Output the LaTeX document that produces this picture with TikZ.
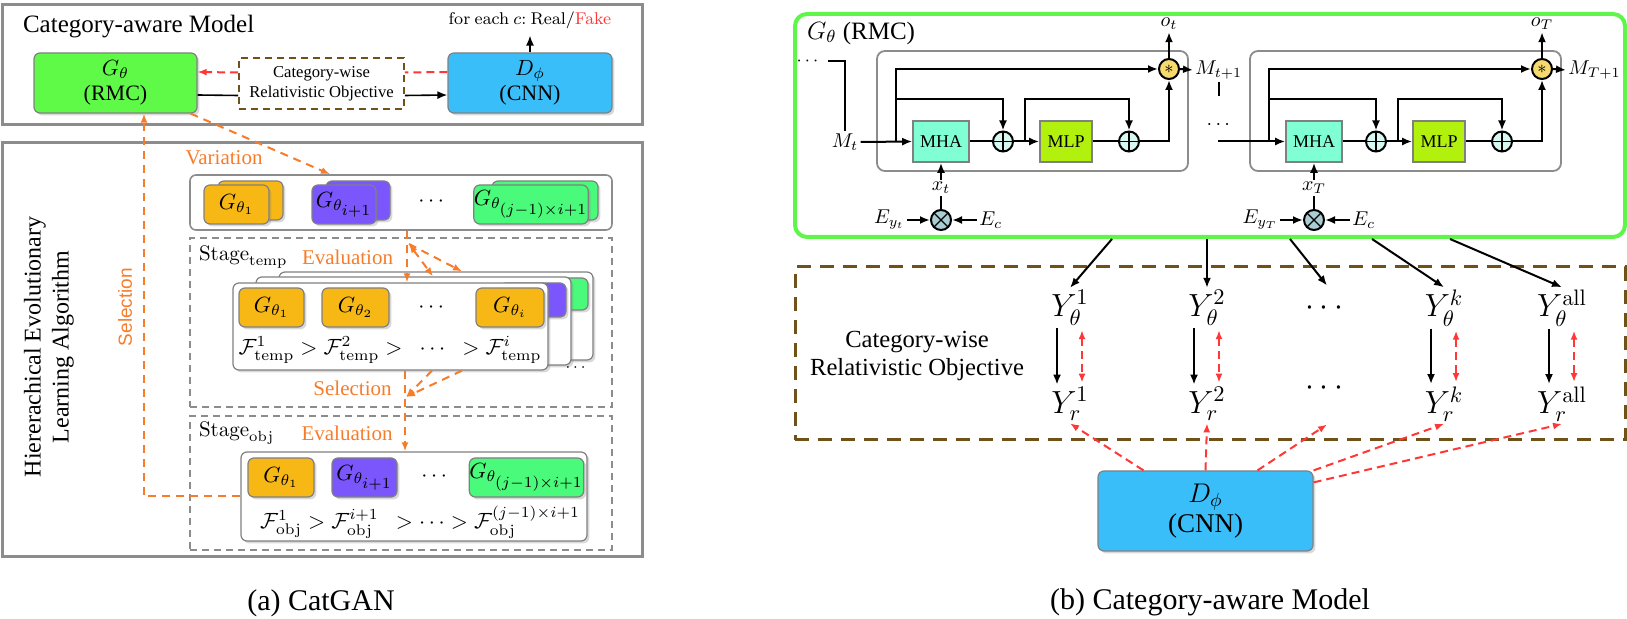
\RequirePackage{fix-cm}
\documentclass[tikz,border=0pt]{standalone}
\usepackage[no-math]{fontspec}
\setmainfont{Liberation Serif}
\setsansfont{Liberation Sans}
\usepackage{amsmath}
\usepackage{xcolor}
\usetikzlibrary{arrows.meta,shadows}

\definecolor{boxgray}{RGB}{140,140,140}
\definecolor{orng}{RGB}{247,124,42}
\definecolor{redd}{RGB}{255,55,55}
\definecolor{gencol}{RGB}{95,250,72}
\definecolor{discol}{RGB}{58,190,250}
\definecolor{cardorng}{RGB}{247,184,22}
\definecolor{cardpurp}{RGB}{122,86,252}
\definecolor{cardgrn}{RGB}{74,250,122}
\definecolor{mhacol}{RGB}{128,255,212}
\definecolor{mlpcol}{RGB}{178,240,14}
\definecolor{pluscol}{RGB}{214,248,240}
\definecolor{mulcol}{RGB}{247,218,110}
\definecolor{crosscol}{RGB}{170,205,212}
\definecolor{rmcgreen}{RGB}{95,245,75}
\definecolor{objbrown}{RGB}{110,82,25}

\newcommand\fsz[2]{\fontsize{#1}{#2}\selectfont}

\tikzset{
  panel/.style={draw=boxgray, line width=1.5pt},
  gbox/.style={draw=gray, rounded corners=3pt, line width=0.6pt, inner sep=0pt, align=center,
    drop shadow={shadow xshift=1.2pt, shadow yshift=-1.2pt, opacity=0.3}},
  card/.style={gbox, fill=white},
  stagebox/.style={draw=boxgray, line width=0.8pt, dash pattern=on 3.5pt off 2.5pt},
  wire/.style={line width=1pt},
  arr/.style={line width=1pt, -{Latex[length=5pt,width=4pt]}},
  oarr/.style={draw=orng, line width=1pt, dash pattern=on 4pt off 3pt, -{Latex[length=4.5pt,width=3.5pt]}},
  rarr/.style={draw=redd, line width=1pt, dash pattern=on 4pt off 2.5pt, -{Latex[length=4.5pt,width=3.5pt]}},
  orlabel/.style={text=orng, font=\fsz{10.5}{12}},
  opnode/.style={circle, draw, line width=1pt, minimum size=10pt, inner sep=0pt},
  plusop/.style={opnode, fill=pluscol, path picture={\draw[line width=0.6pt]
    (path picture bounding box.north) -- (path picture bounding box.south)
    (path picture bounding box.west) -- (path picture bounding box.east);}},
  crossop/.style={opnode, fill=crosscol, path picture={\draw[line width=0.6pt]
    (path picture bounding box.north west) -- (path picture bounding box.south east)
    (path picture bounding box.north east) -- (path picture bounding box.south west);}},
}

\begin{document}
\begin{tikzpicture}[x=0.5pt,y=-0.5pt]
\useasboundingbox (0,0) rectangle (1627,619);

% (a) CatGAN, top part
\draw[panel] (2,5) rectangle (642,125);
\node[anchor=west, font=\fsz{12.5}{15}] (titlea) at (16,27) {Category-aware Model};
\node[gbox, fill=gencol, minimum width=81.5pt, minimum height=30pt, font=\fsz{11}{12.5}] (gen) at (115.5,83) {$G_\theta$\\(RMC)};
\node[draw=objbrown, line width=0.8pt, dash pattern=on 3.5pt off 2.5pt, minimum width=82.5pt, minimum height=25.5pt,
  align=center, inner sep=0pt, font=\fsz{8.3}{10}] (cat) at (321.5,83.5) {Category-wise\\Relativistic Objective};
\node[gbox, fill=discol, minimum width=82pt, minimum height=30pt, font=\fsz{11}{12.5}] (dis) at (530,83) {$D_\phi$\\(CNN)};
\node[font=\fsz{8.5}{10}] (real) at (530,20) {$\mathrm{for\ each}\ c\mathrm{:}\ \mathrm{Real}/{\color{redd}\mathrm{Fake}}$};
\draw[arr, line width=0.8pt] (dis.north) -- (real.south);
\draw[wire, line width=0.8pt] ([yshift=-6pt]gen.east) -- ([yshift=-6pt]cat.west);
\draw[arr, line width=0.8pt] ([yshift=-6pt]cat.east) -- ([yshift=-6pt]dis.west);
\draw[rarr, -] ([yshift=5.5pt]dis.west) -- ([yshift=5.5pt]cat.east);
\draw[rarr] ([yshift=5.5pt]cat.west) -- ([yshift=5.5pt]gen.east);

% evolutionary part
\draw[panel] (2,143) rectangle (642,557);
\node[rotate=90, align=center, font=\fsz{12}{14}] (hier) at (49,347) {Hiererachical Evolutionary\\Learning Algorithm};
\node[rotate=90, text=orng, font=\sffamily\fsz{9.5}{11}] (selv) at (125,307) {Selection};

\node[draw=boxgray, line width=0.8pt, rounded corners=3pt, minimum width=211pt, minimum height=27.5pt] (pop) at (401,202.5) {};
\foreach \n/\x/\w/\c/\lab in {1/236.5/32.5/cardorng/{$G_{\theta_1}$},
    2/344/32/cardpurp/{$G_{\theta_{\scriptstyle i+1}}$},
    3/531/53/cardgrn/{$G_{\theta_{\scriptstyle (j-1)\times i+1}}$}} {
  \node[gbox, fill=\c, minimum width=\w pt, minimum height=19.5pt] (popb\n) at (\x+14,200.5) {};
  \node[gbox, fill=\c, minimum width=\w pt, minimum height=19.5pt, font=\fsz{11}{12}] (popc\n) at (\x,204.5) {\lab};
}
\node[font=\fsz{11}{12}] (popdots) at (433,202) {$\cdots$};
\node[orlabel] (var) at (224,158) {Variation};
\draw[oarr] ([xshift=-3.5pt]gen.south east) -- (330,0 |- pop.north);

% Stage temp
\node[stagebox, minimum width=211pt, minimum height=84.5pt] (temp) at (401,322.5) {};
\node[anchor=west, font=\fsz{10.5}{12}] (tempname) at (192,257) {$\mathrm{Stage}_{\mathrm{temp}}$};
\node[orlabel] (evalt) at (347.5,257) {Evaluation};
\node[card, minimum width=157pt, minimum height=44pt] (back) at (436,316) {};
\node[gbox, fill=cardgrn, minimum width=31.5pt, minimum height=16pt] (tabg) at (556.5,294) {};
\node[card, minimum width=157.5pt, minimum height=44pt] (mid) at (413.5,321) {};
\node[gbox, fill=cardpurp, minimum width=33pt, minimum height=17pt] (tabp) at (533,300) {};
\node[card, minimum width=157.5pt, minimum height=43.5pt] (front) at (390.5,326.5) {};
\node[font=\fsz{8}{9}] (deckdots) at (577,368) {$\cdots$};
\foreach \n/\x/\w/\lab in {1/271.5/32.5/{$G_{\theta_1}$}, 2/355.5/33.5/{$G_{\theta_2}$}, 3/510/34/{$G_{\theta_i}$}}
  \node[gbox, fill=cardorng, minimum width=\w pt, minimum height=19.5pt, font=\fsz{11}{12}] (tc\n) at (\x,307.5) {\lab};
\node[font=\fsz{11}{12}] (tcdots) at (433,308) {$\cdots$};
\node[font=\fsz{11}{12}] (tform) at (390,350)
  {$\mathcal{F}^1_{\mathrm{temp}} > \mathcal{F}^2_{\mathrm{temp}} >\ \ \cdots\ \ > \mathcal{F}^i_{\mathrm{temp}}$};
\node[orlabel] (selt) at (352.5,388) {Selection};

\draw[oarr] (407,0 |- pop.south) -- (407,0 |- front.north);
\coordinate (evs) at (409,244);
\draw[oarr, {Latex[length=4.5pt,width=3.5pt]}-{Latex[length=4.5pt,width=3.5pt]}] (evs) -- (433,0 |- mid.north);
\draw[oarr] (evs) -- (462,0 |- back.north);

% Stage obj
\node[stagebox, minimum width=211pt, minimum height=67pt] (obj) at (401,483) {};
\node[anchor=west, font=\fsz{10.5}{12}] (objname) at (192,433) {$\mathrm{Stage}_{\mathrm{obj}}$};
\node[orlabel] (evalo) at (347,433) {Evaluation};
\node[card, minimum width=173pt, minimum height=44.5pt] (objc) at (414,496.5) {};
\foreach \n/\x/\w/\c/\lab in {1/281/33/cardorng/{$G_{\theta_1}$},
    2/364.5/32.5/cardpurp/{$G_{\theta_{\scriptstyle i+1}}$},
    3/526.5/52.5/cardgrn/{$G_{\theta_{\scriptstyle (j-1)\times i+1}}$}}
  \node[gbox, fill=\c, minimum width=\w pt, minimum height=19.5pt, font=\fsz{11}{12}] (oc\n) at (\x,477.5) {\lab};
\node[font=\fsz{11}{12}] (ocdots) at (436,477) {$\cdots$};
\node[font=\fsz{11}{12}] (oform) at (420,522)
  {$\mathcal{F}^1_{\mathrm{obj}} > \mathcal{F}^{i+1}_{\mathrm{obj}}\ \ > \cdots > \mathcal{F}^{(j-1)\times i+1}_{\mathrm{obj}}$};

\coordinate (selm) at (406,397);
\draw[oarr] (432,0 |- front.south) -- (selm);
\draw[oarr] (462,0 |- front.south) -- (selm);
\draw[oarr] (405,0 |- front.south) -- (405,0 |- objc.north);
\draw[oarr] (objc.west) -| (144,0 |- gen.south);

\node[font=\fsz{15}{18}] (capa) at (321,603) {(a) CatGAN};

% (b) Category-aware Model
\node[draw=rmcgreen, line width=2pt, rounded corners=6pt, minimum width=415pt, minimum height=111.5pt] (rmc) at (1210,125.5) {};
\node[anchor=west, font=\fsz{12.5}{15}] (rmcname) at (800,33) {$G_\theta$ (RMC)};
\node[font=\fsz{9}{10}] (dotin) at (809,61) {$\cdots$};
\node[font=\fsz{10}{12}, inner sep=1pt] (mt) at (845,142) {$M_t$};
\draw[wire] (dotin.east) -| (mt.north);

\foreach \dx/\s/\nx in {0/t/t+1, 373/T/T+1} {
  \node[draw=boxgray, line width=0.9pt, rounded corners=4pt, minimum width=155.5pt, minimum height=60pt] (cell\s) at (1032.5+\dx,111) {};
  \node[draw=gray, line width=0.8pt, fill=mhacol, minimum width=28pt, minimum height=20.5pt, inner sep=0pt, font=\fsz{9}{10}] (mha\s) at (941+\dx,141.5) {MHA};
  \node[plusop] (adda\s) at (1003+\dx,141.5) {};
  \node[draw=gray, line width=0.8pt, fill=mlpcol, minimum width=26pt, minimum height=20.5pt, inner sep=0pt, font=\fsz{9}{10}] (mlp\s) at (1066+\dx,141.5) {MLP};
  \node[plusop] (addb\s) at (1129+\dx,141.5) {};
  \node[opnode, fill=mulcol, font=\fsz{9}{10}] (mul\s) at (1169+\dx,69) {$*$};
  \node[font=\fsz{10}{12}, inner sep=1pt] (o\s) at (1169+\dx,24) {$o_\s$};
  \node[anchor=west, font=\fsz{10}{12}, inner sep=1pt] (mout\s) at (1193+\dx,70) {$M_{\nx}$};
  \node[font=\fsz{10}{12}, inner sep=1pt] (x\s) at (941+\dx,188) {$x_\s$};
  \node[crossop] (cross\s) at (941+\dx,220) {};
  \node[anchor=east, font=\fsz{10}{12}, inner sep=1pt] (ey\s) at (907+\dx,220) {$E_{y_\s}$};
  \node[anchor=west, font=\fsz{10}{12}, inner sep=1pt] (ec\s) at (977+\dx,220) {$E_c$};
  \coordinate (br\s) at (896+\dx,141.5);
  \coordinate (brm\s) at (1025+\dx,141.5);
  \draw[arr] (br\s) |- (mul\s.west);
  \draw[arr] (br\s |- 0,99) -| (adda\s.north);
  \draw[arr] (brm\s) -- (brm\s |- 0,99) -| (addb\s.north);
  \draw[wire] (mha\s.east) -- (adda\s.west);
  \draw[arr] (adda\s.east) -- (mlp\s.west);
  \draw[wire] (mlp\s.east) -- (addb\s.west);
  \draw[arr] (addb\s.east) -| (mul\s.south);
  \draw[arr] (mul\s.north) -- (o\s.south);
  \draw[arr] (mul\s.east) -- (mout\s.west);
  \draw[wire] (cross\s.north) -- (x\s.south);
  \draw[arr] (x\s.north) -- (mha\s.south);
  \draw[arr] (ey\s.east) -- (cross\s.west);
  \draw[arr] (ec\s.west) -- (cross\s.east);
}
\draw[arr] (mt.east) -- (mhat.west);
\draw[wire] (moutt.south) -- ++(0,14);
\node[font=\fsz{10}{12}] (midots) at (1220,125) {$\cdots$};
\coordinate (inT) at (1218,141.5);
\draw[arr] (inT) -- (mhaT.west);

% category-wise objective
\node[draw=objbrown, line width=1.5pt, dash pattern=on 7pt off 4.5pt, minimum width=415pt, minimum height=86.5pt] (cro) at (1210,353.5) {};
\node[align=center, font=\fsz{12.3}{14}] (crotxt) at (917,356) {Category-wise\\Relativistic Objective};
\foreach \n/\x/\ex in {1/1070/1, 2/1207/2, k/1444/k, a/1562/\mathrm{all}} {
  \node[font=\fsz{16}{18}, inner sep=1pt] (yt\n) at (\x,308) {$Y^{\ex}_\theta$};
  \node[font=\fsz{16}{18}, inner sep=1pt] (yr\n) at (\x,404) {$Y^{\ex}_r$};
  \draw[arr] ([xshift=-6.5pt]yt\n.south) -- ([xshift=-6.5pt]yr\n.north);
  \draw[rarr, {Latex[length=4.5pt,width=3.5pt]}-{Latex[length=4.5pt,width=3.5pt]}, shorten <=1pt, shorten >=1pt]
    ([xshift=6pt]yt\n.south) -- ([xshift=6pt]yr\n.north);
}
\node[font=\fsz{16}{18}, inner sep=1pt] (dott) at (1327,308) {$\cdots$};
\node[font=\fsz{16}{18}, inner sep=1pt] (dotr) at (1327,388) {$\cdots$};

\draw[arr] (1112,0 |- rmc.south) -- (yt1.north);
\draw[arr] (1207,0 |- rmc.south) -- (yt2.north);
\draw[arr] (1290,0 |- rmc.south) -- ([yshift=6.5pt]dott.north);
\draw[arr] (1372,0 |- rmc.south) -- (ytk.north);
\draw[arr] (1450,0 |- rmc.south) -- (yta.north);

\node[gbox, fill=discol, minimum width=107.5pt, minimum height=40pt, font=\fsz{13.5}{15}] (dis2) at (1205.5,511) {$D_\phi$\\(CNN)};
\draw[rarr] ([xshift=-31pt]dis2.north) -- (yr1.south);
\draw[rarr] (dis2.north) -- (yr2.south);
\draw[rarr] ([xshift=26pt]dis2.north) -- ([yshift=-13.5pt]dotr.south);
\draw[rarr] (dis2.north east) -- (yrk.south);
\draw[rarr] ([yshift=-6pt]dis2.north east) -- (yra.south);

\node[font=\fsz{15}{18}] (capb) at (1210,602) {(b) Category-aware Model};
\end{tikzpicture}
\end{document}
